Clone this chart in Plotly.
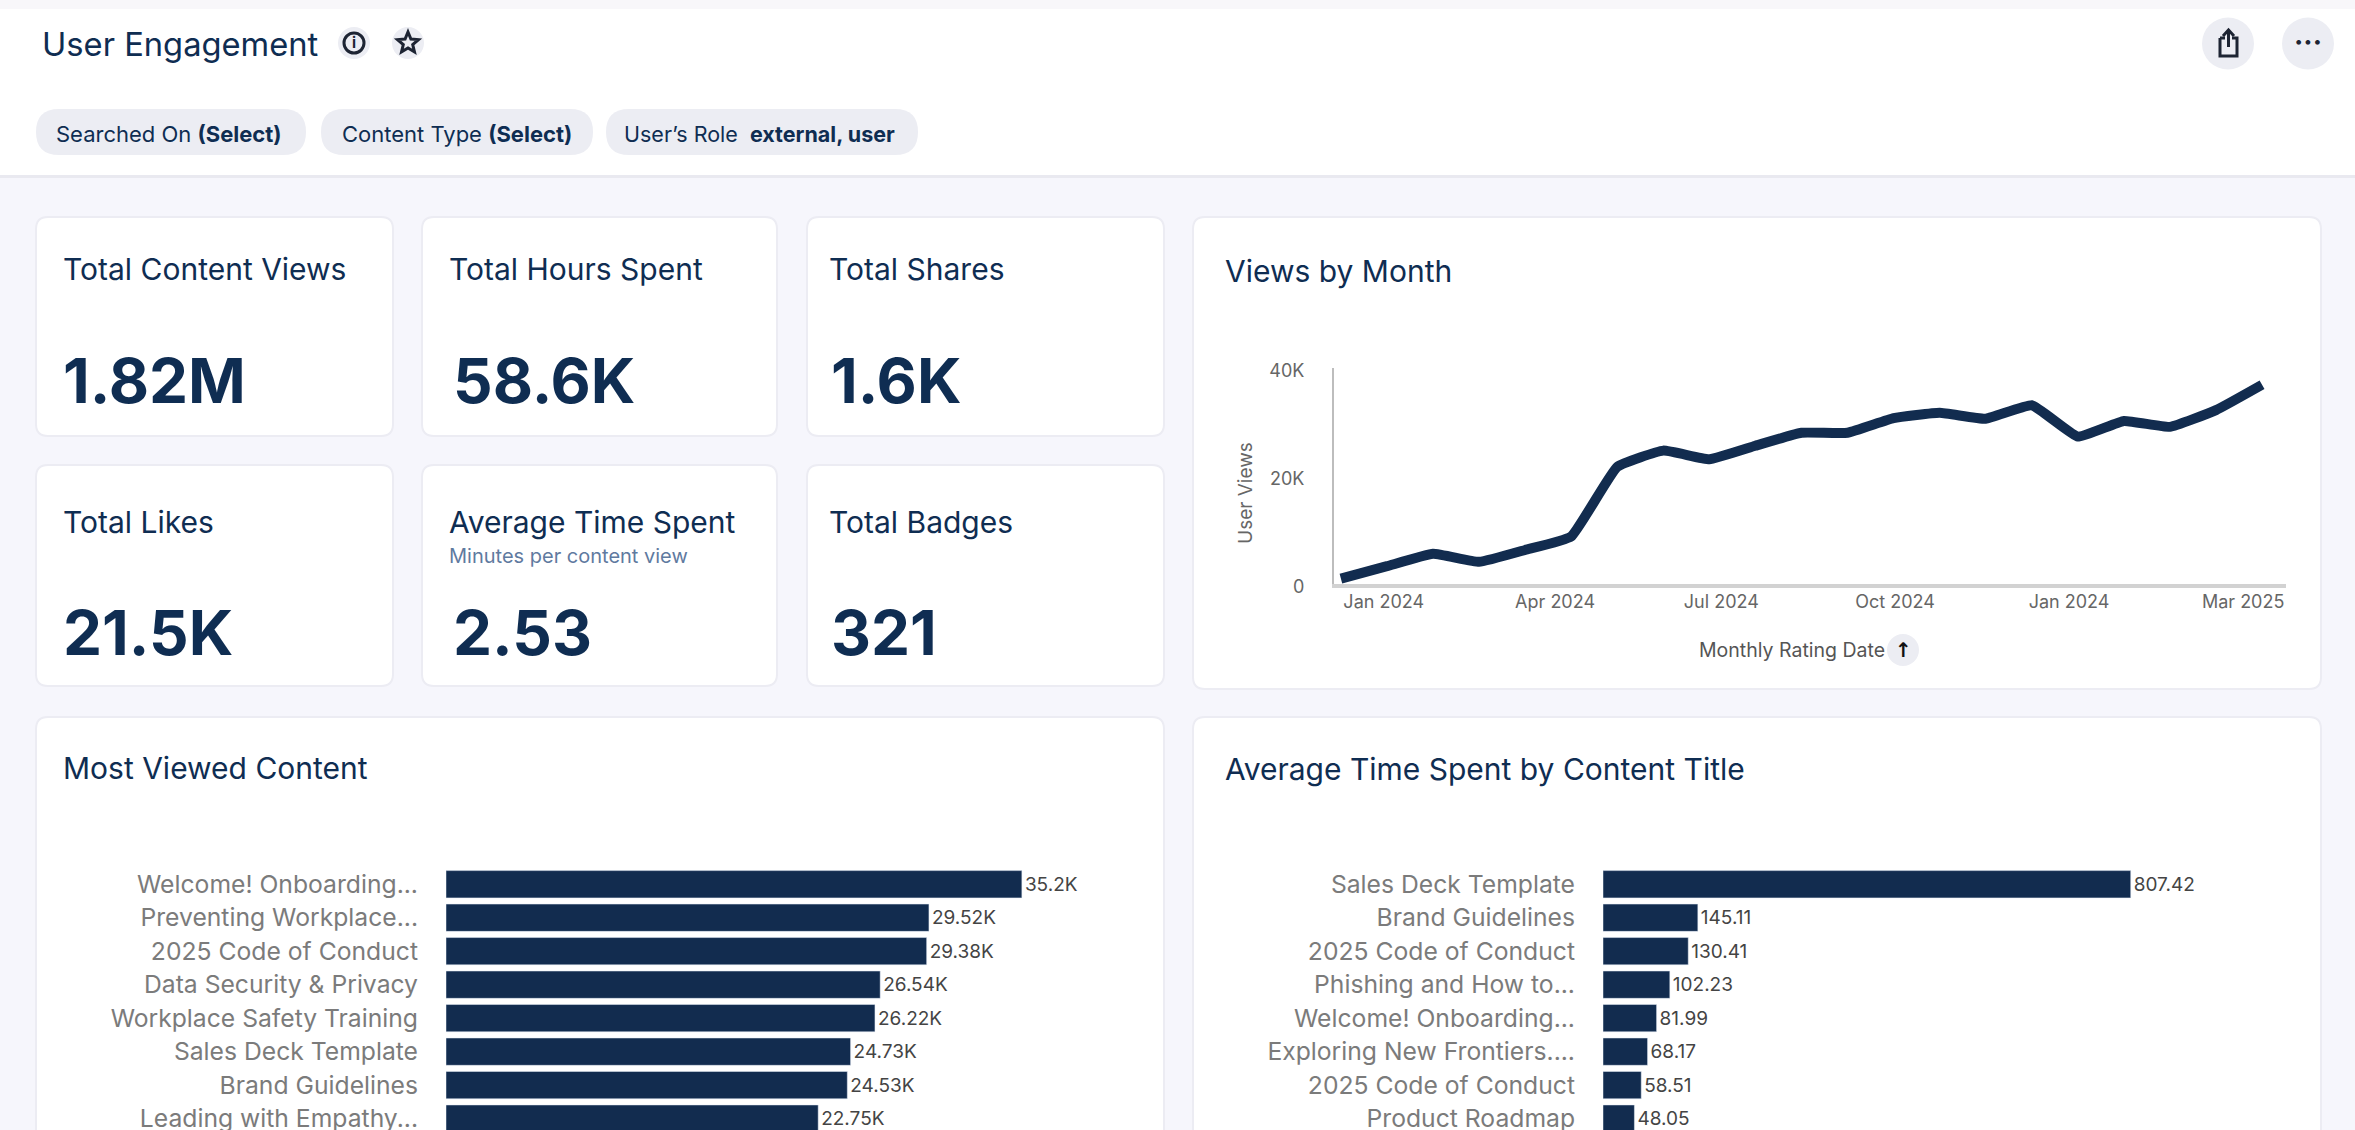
import math

import plotly.graph_objects as go

W, H = 2355, 1130
NAVY = "#122c4f"
TITLE = "#0f2d52"
FONT = "Inter"

# views by month, in user views
views = [1000, 3300, 5600, 4100, 6300, 8800, 21700, 24700, 23100, 25600, 28000,
         28000, 30700, 31700, 30600, 33100, 27300, 30200, 29100, 32200, 36900]
month_ticks = ["Jan 2024", "Apr 2024", "Jul 2024", "Oct 2024", "Jan 2024", "Mar 2025"]
month_tick_pos = [0.93, 4.65, 8.26, 12.03, 15.81, 19.59]

viewed_titles = ["Welcome! Onboarding...", "Preventing Workplace...", "2025 Code of Conduct",
                 "Data Security & Privacy", "Workplace Safety Training", "Sales Deck Template",
                 "Brand Guidelines", "Leading with Empathy..."]
viewed_values = [35200, 29520, 29380, 26540, 26220, 24730, 24530, 22750]
viewed_labels = ["35.2K", "29.52K", "29.38K", "26.54K", "26.22K", "24.73K", "24.53K", "22.75K"]

time_titles = ["Sales Deck Template", "Brand Guidelines", "2025 Code of Conduct",
               "Phishing and How to...", "Welcome! Onboarding...", "Exploring New Frontiers....",
               "2025 Code of Conduct", "Product Roadmap"]
time_values = [807.42, 145.11, 130.41, 102.23, 81.99, 68.17, 58.51, 48.05]

kpi_names = ["Total Content Views", "Total Hours Spent", "Total Shares",
             "Total Likes", "Average Time Spent", "Total Badges"]
kpi_values = ["1.82M", "58.6K", "1.6K", "21.5K", "2.53", "321"]


def px(x):
    return x / W


def py(y):
    return 1 - y / H


def rounded(x0, y0, x1, y1, r=12):
    a, b, c, d = px(x0), py(y0), px(x1), py(y1)
    rx, ry = r / W, r / H
    return (f"M{a + rx},{b} L{c - rx},{b} Q{c},{b} {c},{b - ry} L{c},{d + ry} Q{c},{d} {c - rx},{d} "
            f"L{a + rx},{d} Q{a},{d} {a},{d + ry} L{a},{b - ry} Q{a},{b} {a + rx},{b} Z")


def card(x0, y0, x1, y1):
    return dict(type="path", path=rounded(x0, y0, x1, y1), xref="paper", yref="paper", layer="below",
                fillcolor="white", line=dict(color="#ececf3", width=2))


def pill(x0, y0, x1, y1):
    return dict(type="path", path=rounded(x0, y0, x1, y1, (y1 - y0) / 2), xref="paper", yref="paper",
                layer="below", fillcolor="#ecedf3", line=dict(width=0))


def circle(cx, cy, r, fill="#ecedf3", line=None):
    return dict(type="circle", xref="paper", yref="paper", layer="below", fillcolor=fill,
                x0=px(cx - r), x1=px(cx + r), y0=py(cy + r), y1=py(cy - r),
                line=line or dict(width=0))


def rect(x0, y0, x1, y1, fill):
    return dict(type="rect", xref="paper", yref="paper", layer="below", fillcolor=fill,
                x0=px(x0), x1=px(x1), y0=py(y1), y1=py(y0), line=dict(width=0))


def poly(points, color="#1d2433", width=3, close=False):
    d = "M" + " L".join(f"{px(a)},{py(b)}" for a, b in points) + (" Z" if close else "")
    return dict(type="path", path=d, xref="paper", yref="paper", layer="above", line=dict(color=color, width=width))


def star(cx, cy, r):
    pts = []
    for i in range(10):
        rad = r if i % 2 == 0 else r * 0.45
        ang = -math.pi / 2 + i * math.pi / 5
        pts.append((cx + rad * math.cos(ang), cy + rad * math.sin(ang)))
    return poly(pts, width=3, close=True)


def label(x, y, text, size=30, color=TITLE, anchor="left", angle=0, family=FONT):
    return dict(x=px(x), y=py(y), xref="paper", yref="paper", text=text, showarrow=False,
                xanchor=anchor, yanchor="middle", textangle=angle,
                font=dict(family=family, size=size, color=color))


shapes = [
    rect(0, 0, W, 176, "white"),
    rect(0, 0, W, 9, "#f8f7fa"),
    rect(0, 175, W, 178, "#e9e9f0"),
    pill(36, 109, 306, 155), pill(321, 109, 593, 155), pill(606, 109, 918, 155),
    circle(354, 43, 16), circle(408, 43, 16), circle(2228, 43.5, 26), circle(2308, 43.5, 26),
    card(36, 217, 393, 436), card(422, 217, 777, 436), card(807, 217, 1164, 436),
    card(36, 465, 393, 686), card(422, 465, 777, 686), card(807, 465, 1164, 686),
    card(1193, 217, 2321, 689),
    card(36, 717, 1164, 1190), card(1193, 717, 2321, 1190),
    circle(1903, 650, 16),
    dict(circle(354, 43, 10, fill="rgba(0,0,0,0)", line=dict(color="#1d2433", width=3)), layer="above"),
    star(408, 43, 11),
    # share icon
    poly([(2220, 38), (2220, 56), (2237, 56), (2237, 38), (2232, 38)]),
    poly([(2220, 38), (2225, 38)]),
    poly([(2228.5, 47), (2228.5, 30)]),
    poly([(2223, 36), (2228.5, 30), (2234, 36)]),
]

kpi_x = [60.5, 446.5, 827]
kpi_num_x = [60.5, 450.5, 829]
annotations = [
    label(40, 44, "User Engagement", 32.7),
    label(54, 134, "Searched On <b>(Select)</b>", 22),
    label(340, 134, "Content Type <b>(Select)</b>", 22),
    label(622, 134, "User’s Role  <b>external, user</b>", 21.5),
    label(354, 43, "<b>i</b>", 15, "#1d2433", "center"),
    label(2308, 42, "<b>···</b>", 28, "#1d2433", "center"),
    label(447, 556, "Minutes per content view", 20, "#5f7aa0"),
    label(1222.5, 271, "Views by Month", 30),
    label(60.5, 768, "Most Viewed Content", 30),
    label(1222.5, 769, "Average Time Spent by Content Title", 30),
    label(1246, 493, "User Views", 19, "#666666", "center", -90),
    label(1792, 650, "Monthly Rating Date", 19.5, "#555555", "center"),
    label(1903, 650, "<b>↑</b>", 20, "#111111", "center", family="DejaVu Sans"),
]
for i, (name, val) in enumerate(zip(kpi_names, kpi_values)):
    row = i // 3
    col = i % 3
    annotations.append(label(kpi_x[col], [269, 522][row], name, 30))
    annotations.append(label(kpi_num_x[col], [380, 632][row], f"<b>{val}</b>", 62))

fig = go.Figure()

fig.add_trace(go.Scatter(x=list(range(len(views))), y=views, mode="lines", xaxis="x", yaxis="y",
                         line=dict(color=NAVY, width=10, shape="spline", smoothing=0.35)))

fig.add_trace(go.Bar(x=viewed_values, y=list(range(len(viewed_values))), orientation="h",
                     xaxis="x2", yaxis="y2", marker=dict(color=NAVY), text=viewed_labels,
                     textposition="outside", constraintext="none", cliponaxis=True,
                     textfont=dict(family=FONT, size=19, color="#444444")))

fig.add_trace(go.Bar(x=time_values, y=list(range(len(time_values))), orientation="h",
                     xaxis="x3", yaxis="y3", marker=dict(color=NAVY), text=[str(v) for v in time_values],
                     textposition="outside", constraintext="none", cliponaxis=True,
                     textfont=dict(family=FONT, size=19, color="#444444")))

bar_cat_axis = dict(range=[7.34, -0.5], tickmode="array", showgrid=False, zeroline=False, showline=False,
                    automargin=False, ticks="", ticklabelstandoff=27, ticklabeloverflow="allow",
                    tickfont=dict(family=FONT, size=24.7, color="#7b7b7b"))
bar_val_axis = dict(showticklabels=False, showgrid=False, zeroline=False, showline=False, ticks="", automargin=False)

fig.update_layout(
    width=W, height=H, autosize=False, margin=dict(l=0, r=0, t=0, b=0),
    paper_bgcolor="#f6f6fc", plot_bgcolor="rgba(0,0,0,0)",
    showlegend=False, bargap=0.185, shapes=shapes, annotations=annotations,
    font=dict(family=FONT),
    xaxis=dict(domain=[px(1334), px(2286)], range=[-0.15, 20.52], anchor="y", tickmode="array", automargin=False,
               tickvals=month_tick_pos, ticktext=month_ticks, showgrid=False, zeroline=False,
               showline=True, linecolor="#d2d2d2", linewidth=4, ticks="", ticklabelstandoff=-2,
               tickfont=dict(family=FONT, size=18, color="#666666")),
    yaxis=dict(domain=[py(584), py(368)], range=[0, 40000], anchor="x", tickmode="array", automargin=False,
               tickvals=[0, 20000, 40000], ticktext=["0", "20K", "40K"], showgrid=False, zeroline=False,
               showline=True, linecolor="#bdbdbd", linewidth=2, ticks="", ticklabelstandoff=24,
               ticklabelshift=3, tickfont=dict(family=FONT, size=18, color="#666666")),
    xaxis2=dict(domain=[px(446), px(1150)], range=[0, 704 / 16.36 * 1000], anchor="y2", **bar_val_axis),
    yaxis2=dict(domain=[py(1130), py(867.5)], anchor="x2", tickvals=list(range(len(viewed_titles))),
                ticktext=viewed_titles, **bar_cat_axis),
    xaxis3=dict(domain=[px(1603), px(2300)], range=[0, 697 / 0.6536], anchor="y3", **bar_val_axis),
    yaxis3=dict(domain=[py(1130), py(867.5)], anchor="x3", tickvals=list(range(len(time_titles))),
                ticktext=time_titles, **bar_cat_axis),
)

fig.write_html("out.html", config=dict(displayModeBar=False),
               post_script="document.body.style.margin='0';document.body.style.overflow='hidden';")
